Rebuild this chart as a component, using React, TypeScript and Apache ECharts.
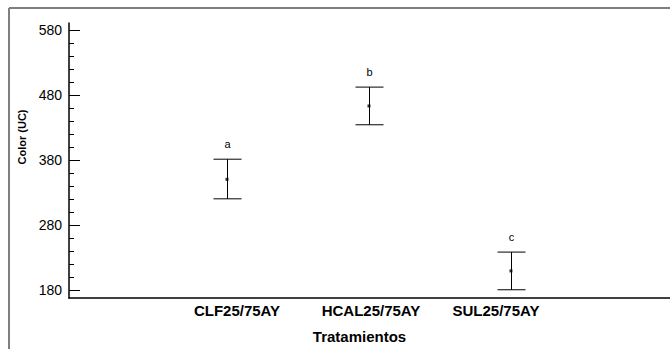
import React, { useEffect, useRef } from "react";
import * as echarts from "echarts";

const categories = ["CLF25/75AY", "HCAL25/75AY", "SUL25/75AY"];
const positions = [1, 2, 3];
const means = [350, 463, 209];
const lowers = [320, 434, 180];
const uppers = [381, 492, 238];
const letters = ["a", "b", "c"];
const yMajorTicks = [180, 280, 380, 480, 580];
const yMinorTicks = [200, 220, 240, 260, 300, 320, 340, 360, 400, 420, 440, 460, 500, 520, 540, 560];
const labelShift = [10, 2, -15];

const FONT = "Liberation Sans, Arial, sans-serif";

export default function App() {
  const ref = useRef<HTMLDivElement>(null);
  useEffect(() => {
    if (!ref.current) return;
    const chart = echarts.init(ref.current, null, { renderer: "svg" });
    const rich: any = {};
    categories.forEach((c, i) => {
      const s = labelShift[i];
      rich["c" + i] = {
        fontFamily: FONT,
        fontSize: 15,
        fontWeight: "bold",
        color: "#000",
        padding: s >= 0 ? [0, 0, 0, 2 * s] : [0, -2 * s, 0, 0],
      };
    });
    const option: any = {
      animation: false,
      backgroundColor: "#fff",
      grid: { left: 69, right: 0, top: 23, bottom: 50, containLabel: false },
      graphic: [
        { type: "line", shape: { x1: 9, y1: 8, x2: 670, y2: 8 }, style: { stroke: "#7f7f7f", lineWidth: 2 } },
        { type: "line", shape: { x1: 9, y1: 8, x2: 9, y2: 349 }, style: { stroke: "#7f7f7f", lineWidth: 2 } },
      ],
      xAxis: {
        type: "value",
        min: -0.1127,
        max: 4.12,
        splitLine: { show: false },
        axisLine: { show: true, onZero: false, lineStyle: { color: "#000", width: 1.5 } },
        axisTick: { show: false },
        axisLabel: {
          customValues: positions,
          margin: 5,
          formatter: (v: number) => {
            const i = Math.round(v) - 1;
            return "{c" + i + "|" + categories[i] + "}";
          },
          rich,
        },
        name: "Tratamientos",
        nameLocation: "middle",
        nameGap: 31,
        nameTextStyle: {
          fontFamily: FONT,
          fontSize: 15,
          fontWeight: "bold",
          color: "#000",
          padding: [0, 20, 0, 0],
        },
      },
      yAxis: [
        {
          type: "value",
          min: 167.3,
          max: 590.7,
          position: "left",
          offset: 0,
          splitLine: { show: false },
          axisLine: { show: true, onZero: false, lineStyle: { color: "#000", width: 1.5 } },
          axisTick: { show: true, inside: true, length: 11, customValues: yMajorTicks, lineStyle: { color: "#000", width: 1 } },
          axisLabel: {
            customValues: yMajorTicks,
            margin: 7,
            fontFamily: FONT,
            fontSize: 14,
            color: "#000",
          },
          name: "Color (UC)",
          nameLocation: "middle",
          nameGap: 39,
          nameTextStyle: {
            fontFamily: FONT,
            fontSize: 11,
            fontWeight: "bold",
            color: "#000",
            padding: [0, 0, 0, 47],
          },
        },
        {
          type: "value",
          min: 167.3,
          max: 590.7,
          position: "left",
          offset: 0,
          splitLine: { show: false },
          axisLine: { show: false, onZero: false },
          axisTick: { show: true, inside: true, length: 5, customValues: yMinorTicks, lineStyle: { color: "#000", width: 1 } },
          axisLabel: { show: false },
        },
      ],
      series: [
        {
          type: "custom",
          data: positions.map((p, i) => [p, lowers[i], uppers[i]]),
          renderItem: (params: any, api: any) => {
            const idx = params.dataIndex;
            const x = api.value(0);
            const pLo = api.coord([x, api.value(1)]);
            const pHi = api.coord([x, api.value(2)]);
            const cx = Math.round(pLo[0]) + 0.5;
            const hw = 14;
            const st = { stroke: "#000", lineWidth: 1 };
            return {
              type: "group",
              children: [
                { type: "line", shape: { x1: cx, y1: pHi[1], x2: cx, y2: pLo[1] }, style: st },
                { type: "line", shape: { x1: cx - hw, y1: pHi[1], x2: cx + hw, y2: pHi[1] }, style: st },
                { type: "line", shape: { x1: cx - hw, y1: pLo[1], x2: cx + hw, y2: pLo[1] }, style: st },
                {
                  type: "text",
                  x: cx,
                  y: pHi[1] - 15,
                  style: {
                    text: letters[idx],
                    fill: "#000",
                    font: "11px " + FONT,
                    align: "center",
                    verticalAlign: "middle",
                  },
                },
              ],
            };
          },
        },
        {
          type: "scatter",
          symbol: "rect",
          symbolSize: 3,
          itemStyle: { color: "#000" },
          data: positions.map((p, i) => [p, means[i]]),
          z: 5,
        },
      ],
    };
    chart.setOption(option);
    return () => chart.dispose();
  }, []);
  return (
    <div
      ref={ref}
      style={{ position: "fixed", left: 0, top: 0, width: 670, height: 349, background: "#fff" }}
    />
  );
}
